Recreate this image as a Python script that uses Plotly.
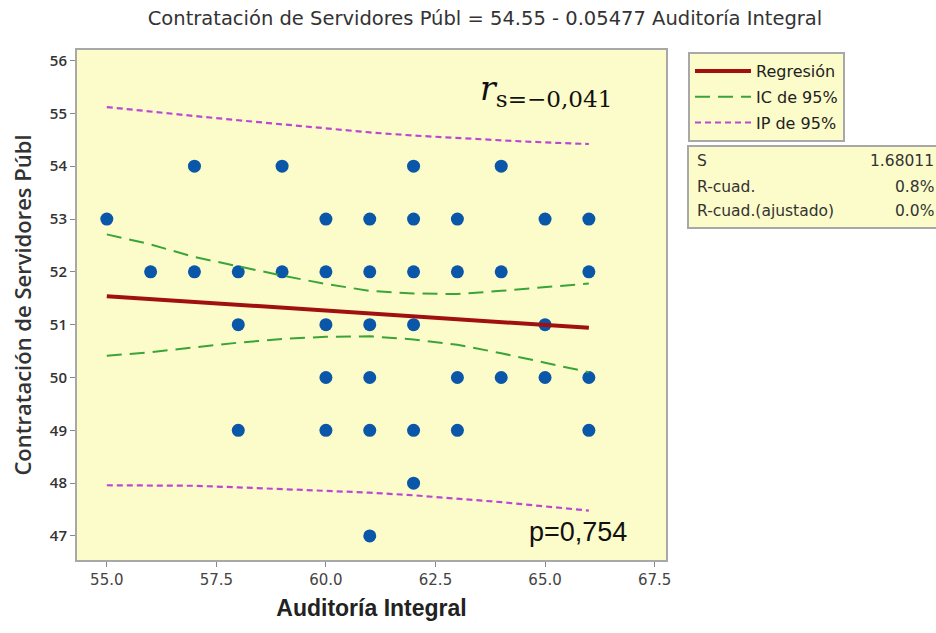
import plotly.graph_objects as go

# ---- data ----
pt_x = [55, 56, 57, 57, 58, 58, 58, 59, 59,
        60, 60, 60, 60, 60,
        61, 61, 61, 61, 61, 61,
        62, 62, 62, 62, 62, 62,
        63, 63, 63, 63,
        64, 64, 64,
        65, 65, 65,
        66, 66, 66, 66]
pt_y = [53, 52, 54, 52, 52, 51, 49, 54, 52,
        53, 52, 51, 50, 49,
        53, 52, 51, 50, 49, 47,
        54, 53, 52, 51, 49, 48,
        53, 52, 50, 49,
        54, 52, 50,
        53, 51, 50,
        53, 52, 50, 49]

reg_x = [55, 66]
reg_y = [51.54, 50.94]

band_x = [55, 56, 57, 58, 59, 60, 61, 62, 63, 64, 65, 66]
ci_upper = [52.71, 52.52, 52.28, 52.10, 51.93, 51.77, 51.64, 51.59, 51.58, 51.64, 51.71, 51.78]
ci_lower = [50.41, 50.48, 50.57, 50.66, 50.73, 50.77, 50.78, 50.72, 50.62, 50.46, 50.28, 50.10]
pi_upper = [55.12, 55.03, 54.95, 54.87, 54.79, 54.71, 54.64, 54.58, 54.53, 54.49, 54.45, 54.42]
pi_lower = [47.96, 47.96, 47.95, 47.92, 47.89, 47.86, 47.82, 47.77, 47.71, 47.64, 47.56, 47.48]

x_ticks = [55.0, 57.5, 60.0, 62.5, 65.0, 67.5]
y_ticks = [47, 48, 49, 50, 51, 52, 53, 54, 55, 56]

stat_labels = ["S", "R-cuad.", "R-cuad.(ajustado)"]
stat_values = ["1.68011", "0.8%", "0.0%"]

title_text = "Contratación de Servidores Públ = 54.55 - 0.05477 Auditoría Integral"
x_title = "Auditoría Integral"
y_title = "Contratación de Servidores Públ"

# ---- colours ----
BG = "#FCFCCA"
RED = "#A01010"
GREEN = "#3AA43A"
PURPLE = "#BC48D2"
BLUE = "#0A56A8"
BORDER = "#A8A8A8"

W, H = 936, 633
L, R, T, B = 77, W - 666, 50, H - 560
PW, PH = W - L - R, H - T - B


def px(xp):
    return (xp - L) / PW


def py(yp):
    return (H - B - yp) / PH


fig = go.Figure()

fig.add_trace(go.Scatter(x=pt_x, y=pt_y, mode="markers", showlegend=False,
                         marker=dict(color=BLUE, size=13, line=dict(width=0)),
                         hoverinfo="skip"))
fig.add_trace(go.Scatter(x=reg_x, y=reg_y, mode="lines", name="Regresión",
                         legendgroup="reg", line=dict(color=RED, width=4)))
fig.add_trace(go.Scatter(x=band_x, y=ci_upper, mode="lines", name="IC de 95%",
                         legendgroup="ci", line=dict(color=GREEN, width=2, dash="15px,8px")))
fig.add_trace(go.Scatter(x=band_x, y=ci_lower, mode="lines", name="IC de 95%",
                         legendgroup="ci", showlegend=False,
                         line=dict(color=GREEN, width=2, dash="15px,8px")))
fig.add_trace(go.Scatter(x=band_x, y=pi_upper, mode="lines", name="IP de 95%",
                         legendgroup="pi", line=dict(color=PURPLE, width=2.2, dash="6px,4px")))
fig.add_trace(go.Scatter(x=band_x, y=pi_lower, mode="lines", name="IP de 95%",
                         legendgroup="pi", showlegend=False,
                         line=dict(color=PURPLE, width=2.2, dash="6px,4px")))

fig.update_layout(
    width=W, height=H,
    margin=dict(l=L, r=R, t=T, b=B, autoexpand=False),
    paper_bgcolor="white",
    plot_bgcolor=BG,
    font=dict(family="DejaVu Sans, sans-serif", color="#333333"),
    title=dict(text=title_text, x=485 / W, xanchor="center", y=1 - 18 / H, yanchor="middle",
               font=dict(size=19.5, color="#333333", family="DejaVu Sans, sans-serif")),
    showlegend=True,
    legend=dict(x=px(688), y=py(52), xanchor="left", yanchor="top",
                bgcolor=BG, bordercolor=BORDER, borderwidth=2,
                font=dict(size=16, color="#222222", family="DejaVu Sans, sans-serif"),
                itemwidth=56, tracegroupgap=2, traceorder="grouped"),
)

fig.update_xaxes(range=[54.32, 67.76], tickvals=x_ticks,
                 ticktext=[f"{v:.1f}" for v in x_ticks],
                 showgrid=False, zeroline=False, automargin=False,
                 showline=True, mirror=True, linecolor=BORDER, linewidth=2,
                 ticks="outside", ticklen=5, tickcolor="#888888",
                 tickfont=dict(size=15, color="#444444", family="DejaVu Sans, sans-serif"),
                 title=dict(text=x_title, standoff=12,
                            font=dict(size=23, color="#222222",
                                      family="Liberation Sans, Arial, sans-serif", weight="bold")))
fig.update_yaxes(range=[46.545, 56.2], tickvals=y_ticks,
                 showgrid=False, zeroline=False, automargin=False,
                 showline=True, mirror=True, linecolor=BORDER, linewidth=2,
                 ticks="outside", ticklen=5, tickcolor="#888888",
                 tickfont=dict(size=15, color="#333333", family="Open Sans, sans-serif", weight=600),
                 title=dict(text=y_title, standoff=12,
                            font=dict(size=22, color="#333333", family="Open Sans, sans-serif",
                                      weight=600)))

# stats box
fig.add_shape(type="rect", xref="paper", yref="paper",
              x0=px(688), x1=px(945), y0=py(228), y1=py(146),
              fillcolor=BG, line=dict(color=BORDER, width=2), layer="above")
row_y = [161, 187, 211]
for lab, val, yy in zip(stat_labels, stat_values, row_y):
    fig.add_annotation(text=lab, xref="paper", yref="paper", x=px(695), y=py(yy),
                       xanchor="left", yanchor="middle", showarrow=False,
                       font=dict(size=15.5, color="#333333", family="DejaVu Sans, sans-serif"))
    fig.add_annotation(text=val, xref="paper", yref="paper", x=px(936), y=py(yy),
                       xanchor="right", yanchor="middle", showarrow=False,
                       font=dict(size=15.5, color="#333333", family="DejaVu Sans, sans-serif"))

# r_s annotation
fig.add_annotation(text="<i>r</i><sub>s=−0,041</sub>", xref="paper", yref="paper",
                   x=px(614), y=py(90), xanchor="right", yanchor="middle", showarrow=False,
                   font=dict(size=33, color="#111111", family="DejaVu Serif, Liberation Serif, serif"))
# p annotation
fig.add_annotation(text="p=0,754", xref="paper", yref="paper",
                   x=px(629), y=py(532), xanchor="right", yanchor="middle", showarrow=False,
                   font=dict(size=27, color="#111111", family="Liberation Sans, Arial, sans-serif"))

fig.write_html("out.html", config={"displayModeBar": False},
               post_script="document.body.style.margin='0px';")
